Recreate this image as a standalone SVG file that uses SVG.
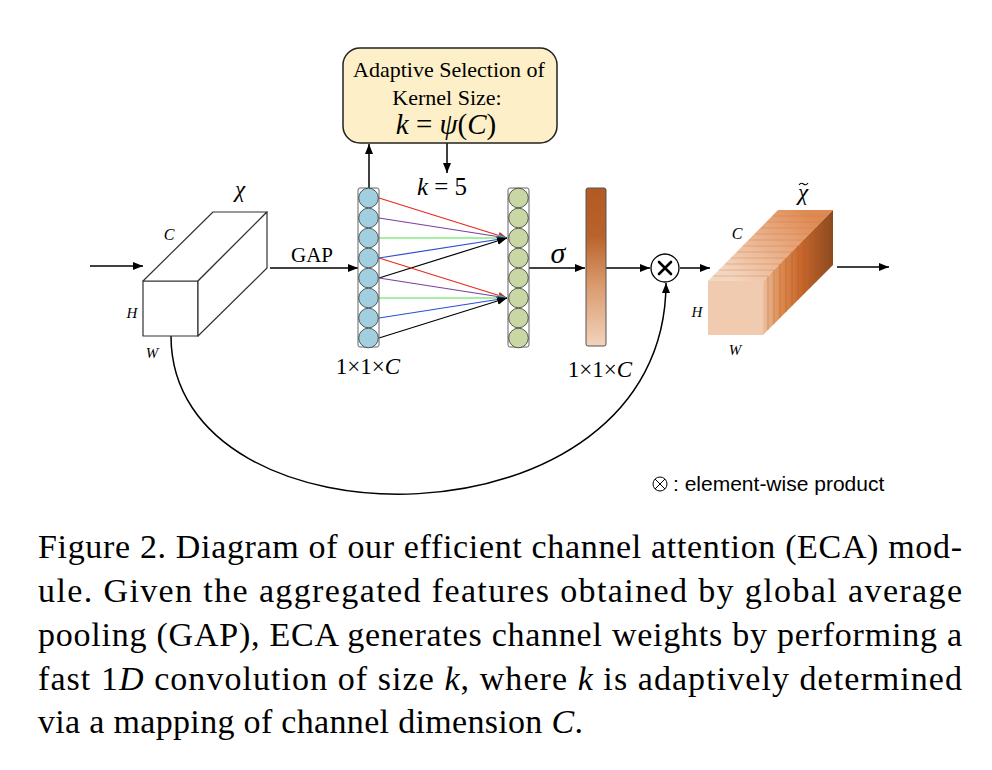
<svg xmlns="http://www.w3.org/2000/svg" width="992" height="770" viewBox="0 0 992 770">
<style>
.serif{font-family:"Liberation Serif","Times New Roman",serif;fill:#000}
.it{font-style:italic}
.sans{font-family:"Liberation Sans",Arial,sans-serif;fill:#000}
.ln{stroke:#000;stroke-width:1.5;fill:none}
.cube{fill:#fff;stroke:#333;stroke-width:1.2;stroke-linejoin:round}
.cb{fill:#a2cfdf;stroke:#333;stroke-width:0.8}
.cg{fill:#c8d7a3;stroke:#333;stroke-width:0.8}
.col{fill:none;stroke:#666;stroke-width:1}
</style>
<defs>
<marker id="ak" viewBox="0 0 10 8" refX="10" refY="4" markerWidth="10" markerHeight="8" markerUnits="userSpaceOnUse" orient="auto"><path d="M0,0L10,4L0,8z" fill="#000"/></marker>
<marker id="ar" viewBox="0 0 10 8" refX="10" refY="4" markerWidth="9" markerHeight="7" markerUnits="userSpaceOnUse" orient="auto"><path d="M0,0L10,4L0,8z" fill="#e8281e"/></marker>
<marker id="ap" viewBox="0 0 10 8" refX="10" refY="4" markerWidth="9" markerHeight="7" markerUnits="userSpaceOnUse" orient="auto"><path d="M0,0L10,4L0,8z" fill="#7b3fa0"/></marker>
<marker id="ag" viewBox="0 0 10 8" refX="10" refY="4" markerWidth="9" markerHeight="7" markerUnits="userSpaceOnUse" orient="auto"><path d="M0,0L10,4L0,8z" fill="#4ce04c"/></marker>
<marker id="ab" viewBox="0 0 10 8" refX="10" refY="4" markerWidth="9" markerHeight="7" markerUnits="userSpaceOnUse" orient="auto"><path d="M0,0L10,4L0,8z" fill="#2a4fd0"/></marker>
<linearGradient id="bar" x1="0" y1="0" x2="0" y2="1">
<stop offset="0" stop-color="#b35a24"/>
<stop offset="0.3" stop-color="#b9622b"/>
<stop offset="0.6" stop-color="#d9986b"/>
<stop offset="1" stop-color="#f3d3bc"/>
</linearGradient>
<linearGradient id="topg" gradientUnits="userSpaceOnUse" x1="735" y1="281" x2="805" y2="210">
<stop offset="0" stop-color="#f3d6c0"/>
<stop offset="0.5" stop-color="#eab08a"/>
<stop offset="1" stop-color="#df8a52"/>
</linearGradient>
<linearGradient id="sideg" gradientUnits="userSpaceOnUse" x1="763" y1="0" x2="833" y2="0">
<stop offset="0" stop-color="#ecc0a0"/>
<stop offset="0.25" stop-color="#dd8a50"/>
<stop offset="0.55" stop-color="#c8662c"/>
<stop offset="1" stop-color="#8a4a1e"/>
</linearGradient>
</defs>

<g id="connectors">
<line class="ln" x1="90" y1="266" x2="143" y2="266" marker-end="url(#ak)"/>
<line class="ln" x1="270" y1="268" x2="358" y2="268" marker-end="url(#ak)"/>
<line class="ln" x1="369" y1="188" x2="369" y2="144" marker-end="url(#ak)"/>
<line class="ln" x1="447" y1="143" x2="447" y2="173" marker-end="url(#ak)"/>
<line x1="379" y1="198" x2="507" y2="238" stroke="#e8281e" stroke-width="1.2" marker-end="url(#ar)"/>
<line x1="379" y1="218" x2="507" y2="238" stroke="#7b3fa0" stroke-width="1.2" marker-end="url(#ap)"/>
<line x1="379" y1="238" x2="507" y2="238" stroke="#4ce04c" stroke-width="1.2" marker-end="url(#ag)"/>
<line x1="379" y1="258" x2="507" y2="238" stroke="#2a4fd0" stroke-width="1.2" marker-end="url(#ab)"/>
<line x1="379" y1="278" x2="507" y2="238" stroke="#000" stroke-width="1.2" marker-end="url(#ak)"/>
<line x1="379" y1="258" x2="507" y2="298" stroke="#e8281e" stroke-width="1.2" marker-end="url(#ar)"/>
<line x1="379" y1="278" x2="507" y2="298" stroke="#7b3fa0" stroke-width="1.2" marker-end="url(#ap)"/>
<line x1="379" y1="298" x2="507" y2="298" stroke="#4ce04c" stroke-width="1.2" marker-end="url(#ag)"/>
<line x1="379" y1="318" x2="507" y2="298" stroke="#2a4fd0" stroke-width="1.2" marker-end="url(#ab)"/>
<line x1="379" y1="338" x2="507" y2="298" stroke="#000" stroke-width="1.2" marker-end="url(#ak)"/>
<line class="ln" x1="529" y1="268" x2="585" y2="268" marker-end="url(#ak)"/>
<line class="ln" x1="606" y1="268" x2="650" y2="268" marker-end="url(#ak)"/>
<line class="ln" x1="680" y1="268" x2="710" y2="268" marker-end="url(#ak)"/>
<line class="ln" x1="837" y1="267" x2="889" y2="267" marker-end="url(#ak)"/>
<path class="ln" d="M171,336 C171,555 666,555 666,283" marker-end="url(#ak)"/>
</g>

<g id="kernel-box">
<rect x="343" y="48" width="214" height="95" rx="17" fill="#fdf0c8" stroke="#222" stroke-width="1.5"/>
<text class="serif" x="449" y="77" font-size="22" text-anchor="middle">Adaptive Selection of</text>
<text class="serif" x="447" y="105" font-size="22" text-anchor="middle">Kernel Size:</text>
<text class="serif" x="446" y="134" font-size="29" text-anchor="middle"><tspan class="it">k</tspan> = <tspan class="it">ψ</tspan>(<tspan class="it">C</tspan>)</text>
</g>

<g id="k5-label">
<text class="serif" x="442" y="195" font-size="25" text-anchor="middle"><tspan class="it">k</tspan> = 5</text>
</g>

<g id="input-cube">
<rect class="cube" x="143" y="281" width="55" height="55"/>
<polygon class="cube" points="143,281 213,212 267,212 198,281"/>
<polygon class="cube" points="198,281 267,212 267,268 198,336"/>
<text class="serif it" x="240" y="197" font-size="23" text-anchor="middle">χ</text>
<text class="serif it" x="169" y="240" font-size="16" text-anchor="middle">C</text>
<text class="serif it" x="132" y="318" font-size="15" text-anchor="middle">H</text>
<text class="serif it" x="152" y="358" font-size="15" text-anchor="middle">W</text>
</g>

<g id="gap-label">
<text class="serif" x="312" y="262" font-size="21" text-anchor="middle">GAP</text>
</g>

<g id="gap-vector">
<rect class="col" x="358" y="188" width="21" height="159" rx="2"/>
<circle class="cb" cx="368.5" cy="198" r="9.8"/>
<circle class="cb" cx="368.5" cy="218" r="9.8"/>
<circle class="cb" cx="368.5" cy="238" r="9.8"/>
<circle class="cb" cx="368.5" cy="258" r="9.8"/>
<circle class="cb" cx="368.5" cy="278" r="9.8"/>
<circle class="cb" cx="368.5" cy="298" r="9.8"/>
<circle class="cb" cx="368.5" cy="318" r="9.8"/>
<circle class="cb" cx="368.5" cy="338" r="9.8"/>
<text class="serif" x="368" y="374" font-size="23" text-anchor="middle">1×1×<tspan class="it">C</tspan></text>
</g>

<g id="conv-vector">
<rect class="col" x="508" y="188" width="21" height="159" rx="2"/>
<circle class="cg" cx="518.5" cy="198" r="9.8"/>
<circle class="cg" cx="518.5" cy="218" r="9.8"/>
<circle class="cg" cx="518.5" cy="238" r="9.8"/>
<circle class="cg" cx="518.5" cy="258" r="9.8"/>
<circle class="cg" cx="518.5" cy="278" r="9.8"/>
<circle class="cg" cx="518.5" cy="298" r="9.8"/>
<circle class="cg" cx="518.5" cy="318" r="9.8"/>
<circle class="cg" cx="518.5" cy="338" r="9.8"/>
</g>

<g id="sigma-label">
<text class="serif it" x="558" y="263" font-size="30" text-anchor="middle">σ</text>
</g>

<g id="weights">
<rect x="586" y="188" width="20" height="158" rx="2" fill="url(#bar)" stroke="#555" stroke-width="1"/>
<text class="serif" x="600" y="377" font-size="23" text-anchor="middle">1×1×<tspan class="it">C</tspan></text>
</g>

<g id="product">
<circle cx="665" cy="268" r="14" fill="#fff" stroke="#000" stroke-width="1.3"/>
<path d="M659,262L671,274M671,262L659,274" stroke="#000" stroke-width="2.6" stroke-linecap="round"/>
</g>

<g id="output-cube">
<rect x="708" y="281" width="55" height="54" fill="#f0cbb0"/>
<polygon points="708,281 778,210 833,210 763,281" fill="url(#topg)"/>
<polygon points="763,281 833,210 833,265 763,335" fill="url(#sideg)"/>
<g stroke="#c97a48" stroke-width="0.6" opacity="0.6">
<line x1="713" y1="276" x2="768" y2="276"/>
<line x1="719" y1="270" x2="774" y2="270"/>
<line x1="725" y1="264" x2="780" y2="264"/>
<line x1="731" y1="258" x2="786" y2="258"/>
<line x1="737" y1="252" x2="792" y2="252"/>
<line x1="743" y1="246" x2="798" y2="246"/>
<line x1="749" y1="240" x2="804" y2="240"/>
<line x1="755" y1="234" x2="810" y2="234"/>
<line x1="761" y1="228" x2="816" y2="228"/>
<line x1="767" y1="222" x2="822" y2="222"/>
<line x1="773" y1="216" x2="828" y2="216"/>
</g>
<g stroke="#a85a28" stroke-width="0.6" opacity="0.6">
<line x1="768" y1="276" x2="768" y2="330"/>
<line x1="774" y1="270" x2="774" y2="324"/>
<line x1="780" y1="264" x2="780" y2="318"/>
<line x1="786" y1="258" x2="786" y2="312"/>
<line x1="792" y1="252" x2="792" y2="306"/>
<line x1="798" y1="246" x2="798" y2="300"/>
<line x1="804" y1="240" x2="804" y2="294"/>
<line x1="810" y1="234" x2="810" y2="288"/>
<line x1="816" y1="228" x2="816" y2="282"/>
<line x1="822" y1="222" x2="822" y2="276"/>
<line x1="828" y1="216" x2="828" y2="270"/>
</g>
<text class="serif it" x="803" y="200" font-size="23" text-anchor="middle">χ</text>
<path d="M799,185 q2,-3 4.5,-1 t4.5,-1" fill="none" stroke="#000" stroke-width="1.1"/>
<text class="serif it" x="737" y="239" font-size="16" text-anchor="middle">C</text>
<text class="serif it" x="697" y="317" font-size="15" text-anchor="middle">H</text>
<text class="serif it" x="735" y="355" font-size="15" text-anchor="middle">W</text>
</g>

<g id="legend">
<circle cx="660" cy="484" r="7" fill="none" stroke="#000" stroke-width="1"/>
<path d="M655,479L665,489M665,479L655,489" stroke="#000" stroke-width="1"/>
<text class="sans" x="673" y="491" font-size="21">: element-wise product</text>
</g>

<g id="caption">
<text class="serif" x="38" y="558" font-size="34" textLength="924" lengthAdjust="spacing">Figure 2. Diagram of our efficient channel attention (ECA) mod-</text>
<text class="serif" x="38" y="602" font-size="34" textLength="924" lengthAdjust="spacing">ule.  Given the aggregated features obtained by global average</text>
<text class="serif" x="38" y="646" font-size="34" textLength="924" lengthAdjust="spacing">pooling (GAP), ECA generates channel weights by performing a</text>
<text class="serif" x="38" y="690" font-size="34" textLength="924" lengthAdjust="spacing">fast 1<tspan class="it">D</tspan> convolution of size <tspan class="it">k</tspan>, where <tspan class="it">k</tspan> is adaptively determined</text>
<text class="serif" x="38" y="733" font-size="34" textLength="545" lengthAdjust="spacing">via a mapping of channel dimension <tspan class="it">C</tspan>.</text>
</g>
</svg>
